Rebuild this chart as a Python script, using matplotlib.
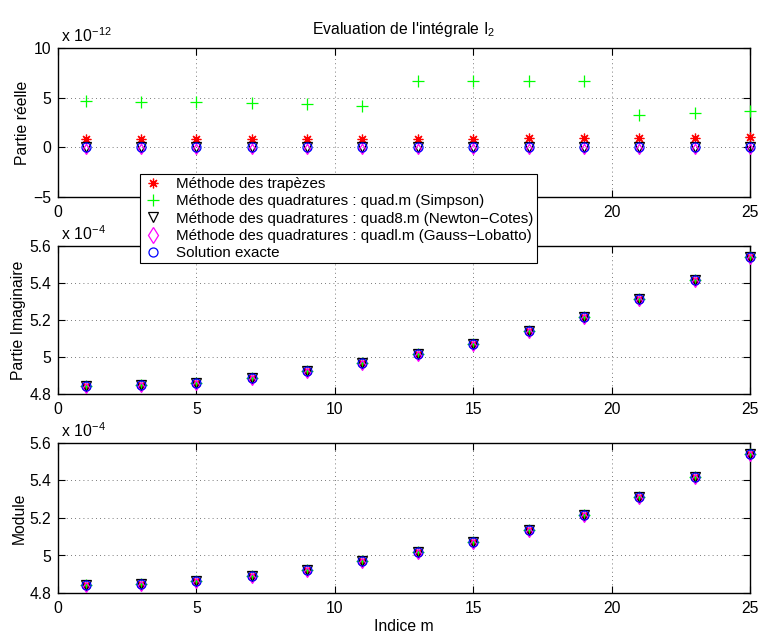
import matplotlib
matplotlib.use("Agg")
import matplotlib.pyplot as plt
from matplotlib.ticker import FuncFormatter, FixedLocator
from matplotlib.lines import Line2D

plt.rcParams['font.family'] = ['Liberation Sans', 'DejaVu Sans']

# ---- data ----
m = [1, 3, 5, 7, 9, 11, 13, 15, 17, 19, 21, 23, 25]

# real part (x 1e-12)
re_trap = [0.80, 0.80, 0.82, 0.83, 0.85, 0.86, 0.87, 0.88, 0.90, 0.92, 0.95, 0.98, 1.02]
re_simp = [4.65, 4.58, 4.52, 4.45, 4.32, 4.15, 6.64, 6.64, 6.64, 6.64, 3.22, 3.42, 3.62]
re_quad8 = [0.0] * 13
re_quadl = [0.0] * 13
re_exact = [0.0] * 13

# imaginary part (x 1e-4)
im_exact = [4.844, 4.850, 4.862, 4.889, 4.924, 4.969, 5.017, 5.070, 5.138, 5.218, 5.312, 5.417, 5.541]
im_trap = im_exact
im_simp = im_exact
im_quad8 = im_exact
im_quadl = im_exact

# module (x 1e-4)
mod_exact = [4.844, 4.850, 4.862, 4.889, 4.924, 4.969, 5.017, 5.070, 5.138, 5.218, 5.312, 5.417, 5.541]
mod_trap = mod_exact
mod_simp = mod_exact
mod_quad8 = mod_exact
mod_quadl = mod_exact

xticks = [0, 5, 10, 15, 20, 25]
labels = ["Méthode des trapèzes",
          "Méthode des quadratures : quad.m (Simpson)",
          "Méthode des quadratures : quad8.m (Newton\u2212Cotes)",
          "Méthode des quadratures : quadl.m (Gauss\u2212Lobatto)",
          "Solution exacte"]

# diamond glyph drawn slightly low, as in the reference rendering
low_diamond = [(0, -1.3), (0.6, -0.35), (0, 0.6), (-0.6, -0.35), (0, -1.3)]

styles = [dict(marker=(8, 2, 0), color='#ff0000', ms=7, mew=0.9),
          dict(marker='+', color='#00ff00', ms=8, mew=0.9),
          dict(marker='v', color='#000000', ms=6.5, mew=0.9, mfc='none'),
          dict(marker=low_diamond, color='#ff00ff', ms=10, mew=0.9, mfc='none'),
          dict(marker='o', color='#0000ff', ms=6.5, mew=0.9, mfc='none')]
leg_styles = [dict(marker=(8, 2, 0), color='#ff0000', ms=7, mew=0.9),
              dict(marker='+', color='#00ff00', ms=8, mew=0.9),
              dict(marker='v', color='#000000', ms=6.5, mew=0.9, mfc='none'),
              dict(marker='d', color='#ff00ff', ms=8, mew=0.9, mfc='none'),
              dict(marker='o', color='#0000ff', ms=6.5, mew=0.9, mfc='none')]

W, H = 760, 633
fig = plt.figure(figsize=(W / 100, H / 100), dpi=100)

left = 58 / W
width = (750 - 58) / W
tops = [48, 246, 443]
bots = [197, 394, 593]

fs = 11.3

def minus_fmt(v, pos):
    s = "%g" % v
    return s.replace("-", "\u2212")

axes = []
for t, b in zip(tops, bots):
    ax = fig.add_axes([left, 1 - b / H, width, (b - t) / H])
    axes.append(ax)

series_sets = [
    (re_trap, re_simp, re_quad8, re_quadl, re_exact),
    (im_trap, im_simp, im_quad8, im_quadl, im_exact),
    (mod_trap, mod_simp, mod_quad8, mod_quadl, mod_exact),
]
ylims = [(-5, 10), (4.8, 5.6), (4.8, 5.6)]
yticks = [[-5, 0, 5, 10], [4.8, 5.0, 5.2, 5.4, 5.6], [4.8, 5.0, 5.2, 5.4, 5.6]]
ylabels = ["Partie réelle", "Partie Imaginaire", "Module"]
exps = ["$\\mathregular{x\\ 10^{-12}}$", "$\\mathregular{x\\ 10^{-4}}$", "$\\mathregular{x\\ 10^{-4}}$"]

for i, (ax, ser, yl, yt, ylab, ex) in enumerate(zip(axes, series_sets, ylims, yticks, ylabels, exps)):
    for data, st in zip(ser, styles):
        ax.plot(m, data, linestyle='none', clip_on=False, zorder=3, **st)
    ax.set_xlim(0, 25)
    ax.set_ylim(*yl)
    ax.xaxis.set_major_locator(FixedLocator(xticks))
    if i == 0:
        # labels 5, 10, 15 are hidden behind the legend in the reference
        ax.set_xticklabels([str(v) if v in (0, 20, 25) else "" for v in xticks])
    ax.yaxis.set_major_locator(FixedLocator(yt))
    ax.yaxis.set_major_formatter(FuncFormatter(minus_fmt))
    ax.grid(True, color='0.3', linestyle=(0, (1, 4)), linewidth=0.6)
    ax.tick_params(direction='in', top=True, right=True, length=5, width=0.8,
                   labelsize=fs, pad=6)
    ax.tick_params(axis='y', pad=5)
    for sp in ax.spines.values():
        sp.set_linewidth(1.0)
    ax.set_ylabel(ylab, fontsize=fs, labelpad=2)
    ax.text(0.005, 1.02, ex, transform=ax.transAxes, fontsize=fs,
            ha='left', va='bottom')

axes[0].set_title("Evaluation de l'intégrale $\\mathregular{I_2}$", fontsize=fs, pad=10)
axes[2].set_xlabel("Indice m", fontsize=fs, labelpad=2)

handles = [Line2D([], [], linestyle='none', **st) for st in leg_styles]
leg = fig.legend(handles, labels, loc='upper left',
                 bbox_to_anchor=(140 / W, 1 - 174 / H),
                 fontsize=10.9, frameon=True, fancybox=False,
                 edgecolor='black', framealpha=1, borderpad=0.2,
                 labelspacing=0.22, handlelength=1.3, handletextpad=0.9,
                 borderaxespad=0)
leg.get_frame().set_linewidth(0.8)

fig.savefig("out.png", dpi=100)
